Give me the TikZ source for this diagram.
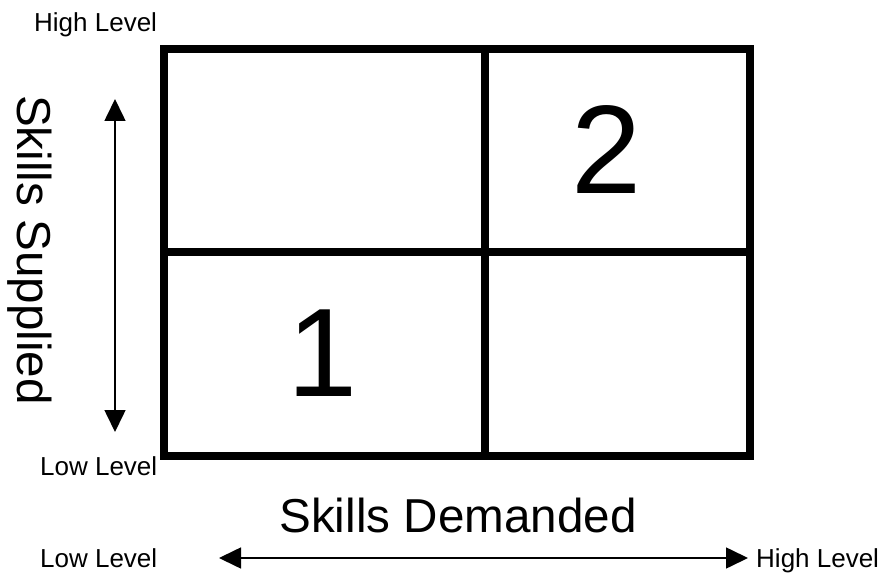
\documentclass[tikz,border=0pt]{standalone}
\usepackage{fontspec}
\setmainfont{Liberation Sans}
\usetikzlibrary{arrows.meta}
\begin{document}
\begin{tikzpicture}[x=1pt,y=-1pt,
  grid/.style={line width=8pt, line cap=rect},
  axisarrow/.style={line width=1.6pt, {Triangle[length=22pt,width=21pt]}-{Triangle[length=22pt,width=21pt]}},
  small/.style={font=\fontsize{26}{30}\selectfont, inner sep=0pt},
  big/.style={font=\fontsize{47.6}{56}\selectfont, inner sep=0pt},
  digit/.style={font=\fontsize{126}{140}\selectfont, inner sep=0pt}]
\useasboundingbox (0,0) rectangle (883,577);
% grid
\coordinate (tl) at (164,49);
\coordinate (br) at (750,456);
\coordinate (mt) at (485,49);
\coordinate (mb) at (485,456);
\coordinate (ml) at (164,252);
\coordinate (mr) at (750,252);
\draw[grid] (tl) rectangle (br);
\draw[grid] (mt) -- (mb);
\draw[grid] (ml) -- (mr);
% digits
\node[digit] (two) at (607,150) {2};
\node[digit] (one) at (323,353) {1};
% vertical axis
\coordinate (vtop) at (115,99);
\coordinate (vbot) at (115,432);
\draw[axisarrow] (vbot) -- (vtop);
\node[small, anchor=base west] (hl1) at (34,32) {High Level};
\node[small, anchor=base west] (ll1) at (40,475) {Low Level};
\node[big, rotate=-90] (ss) at (30,250) {Skills Supplied};
% horizontal axis
\coordinate (hleft) at (219,558);
\coordinate (hright) at (748,558);
\draw[axisarrow] (hleft) -- (hright);
\node[big] (sd) at (458,515) {Skills Demanded};
\node[small, anchor=base west] (ll2) at (40,567) {Low Level};
\node[small, anchor=base west] (hl2) at (756,567) {High Level};
\end{tikzpicture}
\end{document}
